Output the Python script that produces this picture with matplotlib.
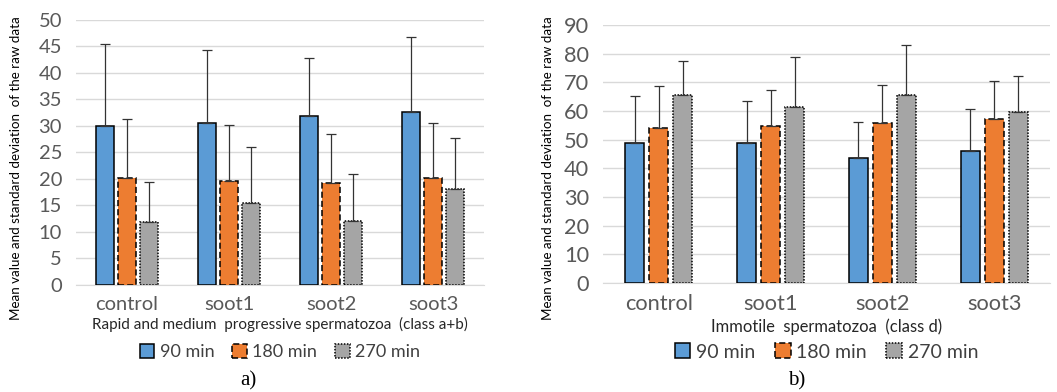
import matplotlib.pyplot as plt
import numpy as np

# data
groups = ['control', 'soot1', 'soot2', 'soot3']
series = ['90 min', '180 min', '270 min']

# a) rapid + medium progressive
a_mean_90 = [30.0, 30.5, 31.8, 32.6]
a_mean_180 = [20.1, 19.7, 19.3, 20.1]
a_mean_270 = [11.8, 15.5, 12.0, 18.1]
a_sd_90 = [15.5, 13.8, 11.1, 14.1]
a_sd_180 = [11.2, 10.5, 9.2, 10.4]
a_sd_270 = [7.6, 10.6, 9.0, 9.6]

# b) immotile
b_mean_90 = [48.8, 48.8, 43.5, 45.9]
b_mean_180 = [54.1, 54.8, 55.9, 57.2]
b_mean_270 = [65.6, 61.5, 65.6, 59.6]
b_sd_90 = [16.4, 14.7, 12.7, 14.9]
b_sd_180 = [14.6, 12.4, 13.3, 13.3]
b_sd_270 = [11.8, 17.5, 17.4, 12.6]

colors = ['#5B9BD5', '#ED7D31', '#A5A5A5']
styles = ['solid', (0, (4, 2)), (0, (1, 1))]
font = ['Lato', 'DejaVu Sans']
plt.rcParams['font.family'] = font

fig = plt.figure(figsize=(10.57, 3.92), dpi=100)


def draw(ax, means, sds, ymax, step, xlabel, leg_y, k=1.0):
    # k = text scale (panel b is printed slightly larger)
    x = np.arange(len(groups))
    w = 0.17
    pitch = 0.215
    for i in range(3):
        pos = x + (i - 1) * pitch
        ax.bar(pos, means[i], w, color=colors[i], edgecolor='black',
               linewidth=1.1, linestyle=styles[i], label=series[i], zorder=3)
        ax.errorbar(pos, means[i], yerr=[np.zeros(4), sds[i]], fmt='none',
                    ecolor='#333333', elinewidth=0.9, capsize=3.5,
                    capthick=0.9, zorder=4)
    ax.set_ylim(0, ymax)
    ax.set_xlim(-0.5, 3.5)
    ax.set_yticks(np.arange(0, ymax + 1, step))
    ax.set_xticks(x)
    ax.set_xticklabels(groups)
    ax.tick_params(length=0, labelsize=14.5 * k, labelcolor='#595959', pad=8)
    ax.tick_params(axis='y', pad=10)
    ax.grid(axis='y', color='#D9D9D9', linewidth=1, zorder=0)
    for s in ['top', 'right', 'left']:
        ax.spines[s].set_visible(False)
    ax.spines['bottom'].set_color('#D9D9D9')
    ax.set_xlabel(xlabel, fontsize=11 * k, color='#262626', labelpad=3)
    ax.legend(loc='center', bbox_to_anchor=(0.5, leg_y), ncol=3,
              frameon=False, fontsize=13 * k, handlelength=0.8,
              handleheight=0.8, handletextpad=0.3, columnspacing=1.0,
              labelcolor='#404040')


ax1 = fig.add_axes([0.0719, 0.273, 0.386, 0.676])
draw(ax1, [a_mean_90, a_mean_180, a_mean_270], [a_sd_90, a_sd_180, a_sd_270],
     50, 5, 'Rapid and medium  progressive spermatozoa  (class a+b)', -0.253)

ax2 = fig.add_axes([0.5705, 0.278, 0.423, 0.658])
draw(ax2, [b_mean_90, b_mean_180, b_mean_270], [b_sd_90, b_sd_180, b_sd_270],
     90, 10, 'Immotile  spermatozoa  (class d)', -0.267, k=1.08)

ylab = 'Mean value and standard deviation  of the raw data'
fig.text(0.015, 0.57, ylab, rotation=90, ha='center', va='center',
         fontsize=9.6, color='black')
fig.text(0.518, 0.57, ylab, rotation=90, ha='center', va='center',
         fontsize=9.6, color='black')
fig.text(0.235, 0.028, 'a)', ha='center', va='center', fontsize=15,
         family='Liberation Serif')
fig.text(0.754, 0.028, 'b)', ha='center', va='center', fontsize=15,
         family='Liberation Serif')

plt.savefig('out.png', dpi=100)
